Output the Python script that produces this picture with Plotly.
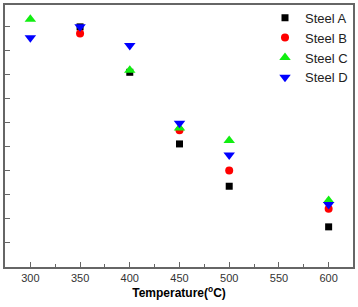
import plotly.graph_objects as go

temps = [300, 350, 400, 450, 500, 600]
steel_a = [None, 9.99, 8.10, 5.12, 3.36, 1.67]
steel_b = [None, 9.71, None, 5.69, 4.01, 2.42]
steel_c = [10.31, None, 8.19, 5.78, 5.26, 2.77]
steel_d = [9.54, 10.00, 9.21, 5.98, 4.66, 2.60]

x_ticks = [300, 350, 400, 450, 500, 550, 600]
y_ticks = [1, 2, 3, 4, 5, 6, 7, 8, 9, 10]

series = [
    ("Steel A", steel_a, "square", "#000000", 7),
    ("Steel B", steel_b, "circle", "#ff0000", 8),
    ("Steel C", steel_c, "triangle-up", "#11ee11", 10),
    ("Steel D", steel_d, "triangle-down", "#0000ff", 10),
]

fig = go.Figure()
for name, vals, sym, col, size in series:
    fig.add_trace(go.Scatter(
        x=temps, y=vals, mode="markers", name=name,
        marker=dict(symbol=sym, color=col, size=size, line=dict(width=0)),
    ))

axis_line = dict(showline=True, linecolor="#666666", linewidth=1.5, mirror=True,
                 showgrid=False, zeroline=False)

fig.update_layout(
    width=358, height=307,
    margin=dict(l=5, r=5, t=4, b=40),
    plot_bgcolor="white", paper_bgcolor="white",
    font=dict(family="Liberation Sans, Arial, sans-serif", size=12, color="#222222"),
    showlegend=True,
    legend=dict(x=1, xanchor="right", y=1.005, yanchor="top", bgcolor="rgba(0,0,0,0)",
                font=dict(size=13, color="#222222"), itemwidth=30, tracegroupgap=0),
    xaxis=dict(range=[274.5, 624.5], tickvals=x_ticks, ticks="inside", ticklen=5,
               tickcolor="#666666", tickwidth=1.2,
               tickfont=dict(size=11, color="#333333"),
               minor=dict(ticks="inside", ticklen=3, dtick=25, tick0=275,
                          tickcolor="#666666", tickwidth=1.2),
               title=dict(text="<b>Temperature(<sup>o</sup>C)</b>", standoff=4,
                          font=dict(size=12, color="#000000")),
               **axis_line),
    yaxis=dict(range=[0, 10.9], tickvals=y_ticks, ticks="inside", ticklen=5,
               tickcolor="#666666", tickwidth=1.2, showticklabels=False,
               **axis_line),
)

fig.write_html("out.html")
